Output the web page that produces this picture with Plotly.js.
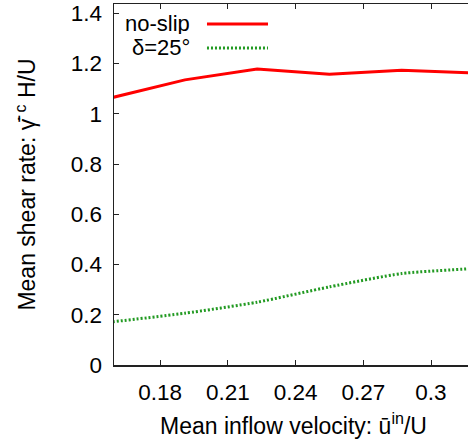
<!DOCTYPE html>
<html>
<head>
<meta charset="utf-8">
<script src="https://cdn.plot.ly/plotly-3.0.1.min.js"></script>
<style>
html,body{margin:0;padding:0;overflow:hidden;background:#fff;width:468px;height:442px;}
#chart{width:474px;height:442px;}
</style>
</head>
<body>
<div id="chart"></div>
<script>
// Data
const velocity = [0.159, 0.191, 0.223, 0.255, 0.287, 0.319];
const noSlip = [1.065, 1.135, 1.178, 1.157, 1.173, 1.162];
const delta25 = [0.172, 0.206, 0.250, 0.311, 0.364, 0.384];
const xTicks = [0.18, 0.21, 0.24, 0.27, 0.30];
const xTickLabels = ["0.18", "0.21", "0.24", "0.27", "0.3"];
const yTicks = [0, 0.2, 0.4, 0.6, 0.8, 1.0, 1.2, 1.4];
const yTickLabels = ["0", "0.2", "0.4", "0.6", "0.8", "1", "1.2", "1.4"];
const seriesNames = ["no-slip", "\u03b4=25\u00b0"];

const red = "#ff0000";
const green = "#229a22";
const font = "'Liberation Sans', Arial, sans-serif";

const traces = [
  {x: velocity, y: noSlip, mode: "lines", name: seriesNames[0],
   line: {color: red, width: 3}, showlegend: false},
  {x: velocity, y: delta25, mode: "lines", name: seriesNames[1],
   line: {color: green, width: 3, dash: "2px,2px", shape: "spline", smoothing: 0.6}, showlegend: false}
];

const axisCommon = {
  showline: true, linecolor: "#222", linewidth: 1.5, mirror: "ticks",
  ticks: "inside", ticklen: 5, tickwidth: 1, tickcolor: "#222",
  showgrid: false, zeroline: false,
  tickfont: {family: font, size: 22.5, color: "#000"}
};

const layout = {
  width: 474, height: 442,
  margin: {l: 114, r: 1, t: 4, b: 77},
  paper_bgcolor: "#fff", plot_bgcolor: "#fff",
  xaxis: Object.assign({}, axisCommon, {
    range: [0.1596, 0.3186], tickvals: xTicks, ticktext: xTickLabels,
    ticklabelstandoff: 6,
    title: {text: "Mean inflow velocity: \u016b<sup>in</sup>/U", font: {family: font, size: 23, color: "#000"}, standoff: 14}
  }),
  yaxis: Object.assign({}, axisCommon, {
    range: [0, 1.437], tickvals: yTicks, ticktext: yTickLabels,
    ticklabelstandoff: 6,
    title: {text: "Mean shear rate: \u03b3\u0307\u0304 <sup>c</sup> H/U", font: {family: font, size: 23, color: "#000"}, standoff: 28}
  }),
  showlegend: false,
  annotations: [
    {xref: "paper", yref: "paper", x: 0.2173, y: 0.9446, text: seriesNames[0], showarrow: false,
     xanchor: "right", yanchor: "middle", height: 21, font: {family: font, size: 22, color: "#000"}},
    {xref: "paper", yref: "paper", x: 0.2173, y: 0.880, text: seriesNames[1], showarrow: false,
     xanchor: "right", yanchor: "middle", height: 21, font: {family: font, size: 22, color: "#000"}}
  ],
  shapes: [
    {type: "line", xref: "paper", yref: "paper", x0: 0.259, x1: 0.429, y0: 0.9446, y1: 0.9446,
     line: {color: red, width: 3}},
    {type: "line", xref: "paper", yref: "paper", x0: 0.259, x1: 0.429, y0: 0.878, y1: 0.878,
     line: {color: green, width: 3, dash: "2px,2px"}}
  ]
};

Plotly.newPlot("chart", traces, layout, {displayModeBar: false, staticPlot: true});
</script>
</body>
</html>
